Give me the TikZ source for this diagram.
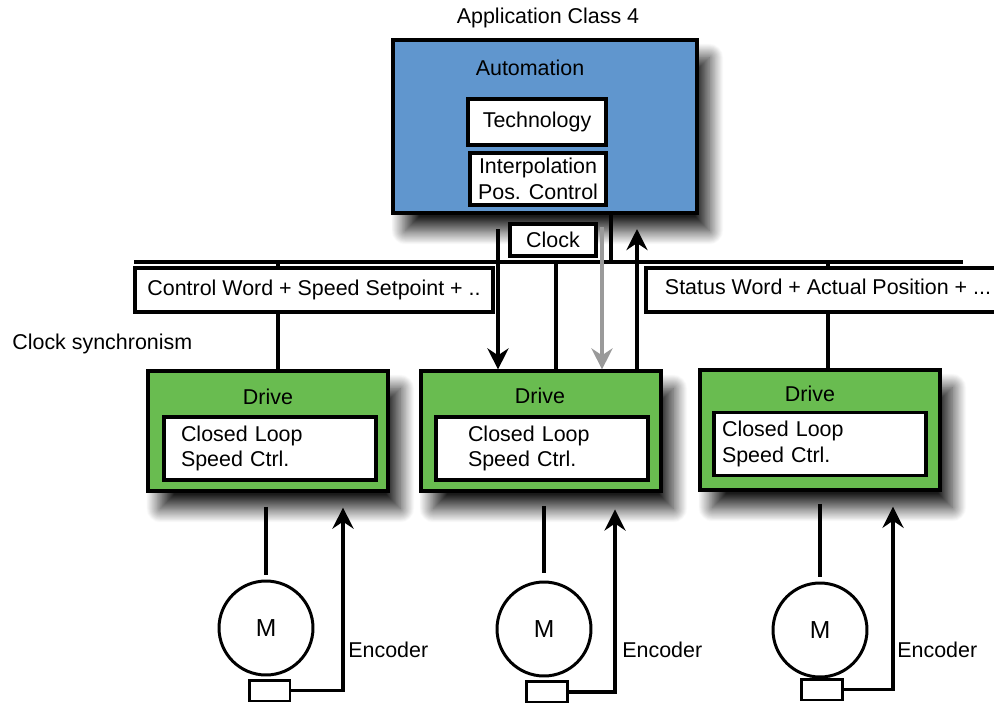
\documentclass[tikz,border=0pt]{standalone}
\usepackage{fontspec}
\setmainfont{Liberation Sans}
\definecolor{autoblue}{HTML}{6096CE}
\definecolor{drivegreen}{HTML}{69BC50}
\definecolor{clockgrey}{HTML}{9A9A9A}
\usetikzlibrary{positioning,arrows.meta,shadows.blur}

\begin{document}
\begin{tikzpicture}[
    x=0.02cm, y=-0.02cm,
    every node/.style={font=\fontsize{12.2}{14.6}\selectfont, inner sep=0pt},
    wire/.style={line width=2pt},
    arr/.style={-{Stealth[length=12pt,width=12pt,inset=4pt]}, line width=2pt},
    dropshade/.style={blur shadow={shadow xshift=7pt, shadow yshift=-10pt,
                      shadow blur radius=8pt, shadow blur steps=30,
                      shadow opacity=90}},
    autobox/.style={rectangle, draw, line width=1.8pt, fill=autoblue,
                    minimum width=6.08cm, minimum height=3.46cm, dropshade},
    drivebox/.style={rectangle, draw, line width=1.8pt, fill=drivegreen,
                     minimum width=4.8cm, minimum height=2.4cm, dropshade},
    whitebox/.style={rectangle, draw, line width=1.8pt, fill=white, align=center},
    loopbox/.style={whitebox, minimum width=4.24cm, minimum height=1.26cm,
                    text width=3.6cm, align=left},
    motor/.style={circle, draw, line width=1.7pt, minimum size=1.88cm,
                  font=\fontsize{14}{16}\selectfont},
    encbox/.style={rectangle, draw, line width=1.7pt, fill=white,
                   minimum width=0.82cm, minimum height=0.42cm}
  ]
    \useasboundingbox (0,0) rectangle (994,703);

    % automation side
    \node (title) at (548,18) {Application Class 4};
    \node[autobox] (auto) at (545,126.5) {};
    \node (autotxt) at (530,68) {Automation};
    \node[whitebox, minimum width=2.76cm, minimum height=0.92cm] (tech) at (537,122) {Technology};
    \node[whitebox, minimum width=2.72cm, minimum height=1.04cm] (ipo) at (538,179) {Interpolation\\Pos. Control};
    \node[whitebox, minimum width=1.72cm, minimum height=0.64cm] (clock) at (553,240) {Clock};

    % bus
    \coordinate (busL) at (134,262);
    \coordinate (busR) at (963,262);
    \draw[wire] (busL) -- (busR);
    \node[whitebox, minimum width=7.16cm, minimum height=0.88cm] (ctrl) at (314,290) {Control Word + Speed Setpoint + ..};
    \node[whitebox, minimum width=7.28cm, minimum height=0.88cm, text depth=0.6ex] (stat) at (828,290) {Status Word + Actual Position + ...};
    \node[anchor=west] (sync) at (12,344) {Clock synchronism};

    % drives
    \node[drivebox] (drv1) at (268,431) {};
    \node (drvtxt1) at (268,397) {Drive};
    \node[loopbox, text width=3.56cm] (loop1) at (270,448.5) {Closed Loop\\Speed Ctrl.};
    \node[drivebox] (drv2) at (541,431) {};
    \node (drvtxt2) at (540,396) {Drive};
    \node[loopbox, text width=2.96cm] (loop2) at (542,448.5) {Closed Loop\\Speed Ctrl.};
    \node[drivebox] (drv3) at (820,430) {};
    \node (drvtxt3) at (810,394) {Drive};
    \node[loopbox, text width=3.92cm] (loop3) at (820,444) {Closed Loop\\Speed Ctrl.};

    \coordinate (tapC) at (278,262);
    \draw[wire] (tapC) -- (tapC |- ctrl.north);
    \draw[wire] (tapC |- ctrl.south) -- (tapC |- drv1.north);
    \draw[wire] (stat.north |- busR) -- (stat.north);
    \draw[wire] (stat.south) -- (stat.south |- drv3.north);

    % clocked data to / from the middle drive
    \coordinate (cmdtop) at (498,229);
    \draw[arr] (cmdtop) -- (cmdtop |- drv2.north);
    \coordinate (tapD) at (556,262);
    \draw[wire] (tapD) -- (tapD |- drv2.north);
    \coordinate (clktop) at (602,227);
    \draw[arr, clockgrey] (clktop) -- (clktop |- drv2.north);
    \coordinate (tapA) at (611,262);
    \draw[wire] (tapA |- auto.south) -- (tapA);
    \coordinate (acttop) at (637,229);
    \draw[arr] (acttop |- drv2.north) -- (acttop);

    % motors and encoders
    \node[motor] (mot1) at (266,628) {M};
    \node[encbox] (enc1) at (269.5,690.5) {};
    \coordinate (fb1) at (343,490);
    \draw[wire, shorten <=8pt, shorten >=2.3pt] (mot1.north |- drv1.south) -- (mot1.north);
    \draw[arr, shorten >=10pt] (enc1.east) -| (fb1);
    \node[anchor=west] (enclbl1) at (348,650) {Encoder};

    \node[motor] (mot2) at (544,629) {M};
    \node[encbox] (enc2) at (547,692) {};
    \coordinate (fb2) at (615,491);
    \draw[wire, shorten <=7.5pt, shorten >=4pt] (mot2.north |- drv2.south) -- (mot2.north);
    \draw[arr, shorten >=10.5pt] (enc2.east) -| (fb2);
    \node[anchor=west] (enclbl2) at (622,650) {Encoder};

    \node[motor] (mot3) at (820,630) {M};
    \node[encbox] (enc3) at (822,689.5) {};
    \coordinate (fb3) at (893,490);
    \draw[wire, shorten <=7pt, shorten >=2.5pt] (mot3.north |- drv3.south) -- (mot3.north);
    \draw[arr, shorten >=9.5pt] (enc3.east) -| (fb3);
    \node[anchor=west] (enclbl3) at (897,650) {Encoder};
  \end{tikzpicture}
\end{document}
